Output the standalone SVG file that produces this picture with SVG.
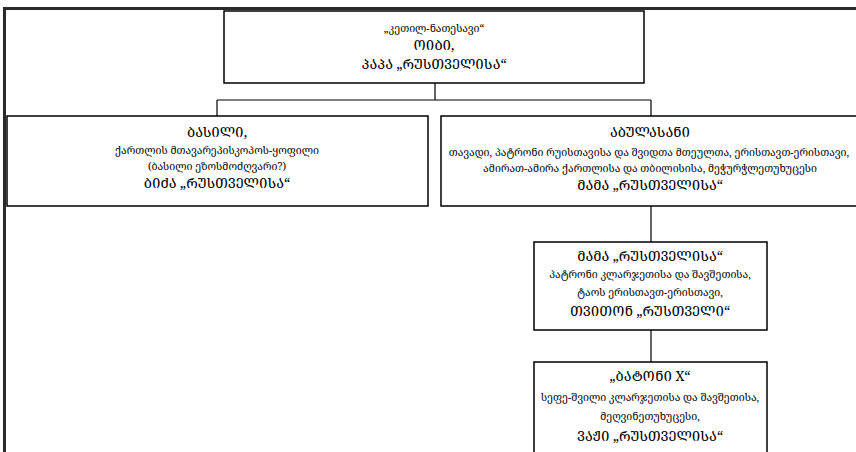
<svg xmlns="http://www.w3.org/2000/svg" width="856" height="452" viewBox="0 0 856 452">
<style>
.box{fill:#fff;stroke:#000;stroke-width:1.5}
.frame{fill:none;stroke:#2a2a2a;stroke-width:3}
.con{fill:none;stroke:#000;stroke-width:1.2}
text{font-family:"Noto Serif Georgian","Noto Sans Georgian","DejaVu Sans",sans-serif;fill:#000;text-anchor:middle}
.cap{font-size:13.5px}
.sm{font-size:10.5px}
</style>
<rect width="856" height="452" fill="#fff"/>
<path class="frame" d="M4.5 452 V8.5 H856"/>
<g id="connectors">
<path class="con" d="M435 83 V100 M217 100 H651 M217 100 V116 M651 100 V116 M651 206 V242 M651 330 V362"/>
</g>
<g id="n-oibi">
<rect class="box" x="224" y="11" width="420" height="72"/>
<text class="sm" x="434" y="32">„კეთილ-ნათესავი“</text>
<text class="cap" x="434" y="50">ᲝᲘᲑᲘ,</text>
<text class="cap" x="434" y="69">ᲞᲐᲞᲐ „ᲠᲣᲡᲗᲕᲔᲚᲘᲡᲐ“</text>
</g>
<g id="n-basili">
<rect class="box" x="7" y="116" width="421" height="90"/>
<text class="cap" x="217" y="137">ᲑᲐᲡᲘᲚᲘ,</text>
<text class="sm" x="217" y="154">ქართლის მთავარეპისკოპოს-ყოფილი</text>
<text class="sm" x="217" y="170">(ბასილი ეზოსმოძღვარი?)</text>
<text class="cap" x="217" y="188">ᲑᲘᲫᲐ „ᲠᲣᲡᲗᲕᲔᲚᲘᲡᲐ“</text>
</g>
<g id="n-abulasani">
<rect class="box" x="441" y="116" width="420" height="90"/>
<text class="cap" x="650" y="137">ᲐᲑᲣᲚᲐᲡᲐᲜᲘ</text>
<text class="sm" x="649" y="156">თავადი, პატრონი რუისთავისა და შვიდთა მთეულთა, ერისთავთ-ერისთავი,</text>
<text class="sm" x="650" y="172">ამირათ-ამირა ქართლისა და თბილისისა, მეჭურჭლეთუხუცესი</text>
<text class="cap" x="650" y="190">ᲛᲐᲛᲐ „ᲠᲣᲡᲗᲕᲔᲚᲘᲡᲐ“</text>
</g>
<g id="n-tviton">
<rect class="box" x="534" y="242" width="233" height="88"/>
<text class="cap" x="650" y="261">ᲛᲐᲛᲐ „ᲠᲣᲡᲗᲕᲔᲚᲘᲡᲐ“</text>
<text class="sm" x="650" y="278">პატრონი კლარჯეთისა და შავშეთისა,</text>
<text class="sm" x="650" y="296">ტაოს ერისთავთ-ერისთავი,</text>
<text class="cap" x="650" y="316">ᲗᲕᲘᲗᲝᲜ „ᲠᲣᲡᲗᲕᲔᲚᲘ“</text>
</g>
<g id="n-vazhi">
<rect class="box" x="534" y="362" width="233" height="100"/>
<text class="cap" x="650" y="381">„ᲑᲐᲢᲝᲜᲘ X“</text>
<text class="sm" x="650" y="401">სეფე-შვილი კლარჯეთისა და შავშეთისა,</text>
<text class="sm" x="650" y="420">მეღვინეთუხუცესი,</text>
<text class="cap" x="650" y="441">ᲕᲐᲟᲘ „ᲠᲣᲡᲗᲕᲔᲚᲘᲡᲐ“</text>
</g>
</svg>
